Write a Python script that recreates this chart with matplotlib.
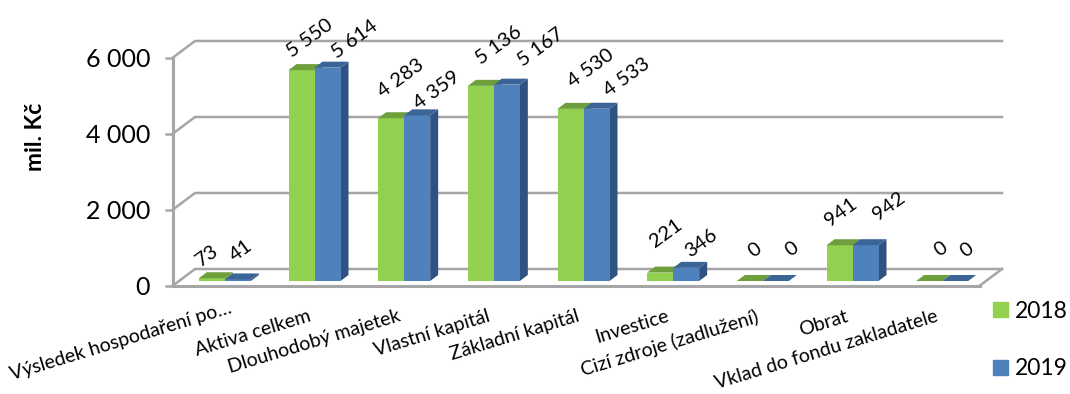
import matplotlib
matplotlib.use('Agg')
import matplotlib.pyplot as plt
from matplotlib.patches import Patch
from matplotlib.transforms import ScaledTranslation

categories = ['Výsledek hospodaření po…', 'Aktiva celkem', 'Dlouhodobý majetek',
              'Vlastní kapitál', 'Základní kapitál', 'Investice',
              'Cizí zdroje (zadlužení)', 'Obrat', 'Vklad do fondu zakladatele']
values_2018 = [73, 5550, 4283, 5136, 4530, 221, 0, 941, 0]
values_2019 = [41, 5614, 4359, 5167, 4533, 346, 0, 942, 0]
labels_2018 = ['73', '5 550', '4 283', '5 136', '4 530', '221', '0', '941', '0']
labels_2019 = ['41', '5 614', '4 359', '5 167', '4 533', '346', '0', '942', '0']
yticks = [0, 2000, 4000, 6000]
ytick_labels = ['0', '2 000', '4 000', '6 000']

# hand placed data labels, pixels from the top of the bar
nudge_2018 = [(-5, 23), (8, 32), (10, 40), (18, 41), (20, 41), (6, 39), (5, 31), (1, 33), (12, 32)]
nudge_2019 = [(3, 29), (27, 28), (20, 25), (34, 37), (30, 32), (15, 25), (16, 32), (23, 39), (12, 31)]

GREEN, GREEN_TOP = '#92D050', '#6F9E3D'
BLUE, BLUE_TOP, BLUE_SIDE = '#4F81BD', '#3B6497', '#2F5282'
GREY = '#A6A6A6'
FONT = 'Lato'

W, H = 1070, 394
LEFT, RIGHT, BOTTOM, TOP = 173, 980, 285.5, 57.5

fig = plt.figure(figsize=(W / 100, H / 100), dpi=100)
ax = fig.add_axes([LEFT / W, 1 - BOTTOM / H, (RIGHT - LEFT) / W, (BOTTOM - TOP) / H])
ax.set_xlim(-0.5, len(categories) - 0.5)
ax.set_ylim(0, 6000)

# data units per pixel
ux = len(categories) / (RIGHT - LEFT)
uy = 6000 / (BOTTOM - TOP)

# walls
wall_dx, wall_dy = 22 * ux, 16.5 * uy
for tick in yticks:
    ax.plot([-0.5, -0.5 + wall_dx, 8.5 + wall_dx], [tick, tick + wall_dy, tick + wall_dy],
            color=GREY, lw=1.8, clip_on=False, zorder=1, solid_joinstyle='miter')
ax.plot([8.5, 8.5 + wall_dx], [0, wall_dy], color=GREY, lw=1.8, clip_on=False, zorder=1)

# bars with fake depth
shift = 7 * ux
width = 26 * ux
base = 4.5 * uy
depth_x, depth_y = 8 * ux, 6 * uy


def draw_bar(x, value, color, top_color, side_color):
    ax.bar(x, value, width=width, bottom=base, color=color, zorder=3)
    x0, x1 = x - width / 2, x + width / 2
    y0, y1 = base, base + value
    ax.fill([x0, x1, x1 + depth_x, x0 + depth_x], [y1, y1, y1 + depth_y, y1 + depth_y],
            color=top_color, lw=0, zorder=3, clip_on=False)
    ax.fill([x1, x1 + depth_x, x1 + depth_x, x1], [y0, y0 + depth_y, y1 + depth_y, y1],
            color=side_color, lw=0, zorder=2, clip_on=False)


def draw_label(x, value, text, nudge):
    ax.annotate(text, (x, value + base), xytext=nudge, textcoords='offset pixels',
                ha='center', va='center', rotation=36, fontsize=14.5, family=FONT,
                color='black', annotation_clip=False, zorder=5)


for i in range(len(categories)):
    xg = i + shift - width / 2
    xb = i + shift + width / 2
    draw_bar(xg, values_2018[i], GREEN, GREEN_TOP, GREEN_TOP)
    draw_bar(xb, values_2019[i], BLUE, BLUE_TOP, BLUE_SIDE)
    draw_label(xg, values_2018[i], labels_2018[i], nudge_2018[i])
    draw_label(xb, values_2019[i], labels_2019[i], nudge_2019[i])

for side in ['top', 'right']:
    ax.spines[side].set_visible(False)
for side in ['left', 'bottom']:
    ax.spines[side].set_color(GREY)
    ax.spines[side].set_linewidth(2.2)

ax.set_yticks(yticks)
ax.set_yticklabels(ytick_labels, fontsize=18, family=FONT)
ax.tick_params(axis='y', length=6, width=1.8, color=GREY, pad=10.5)
ax.set_xticks(range(len(categories)))
ax.set_xticklabels(categories, fontsize=14, family=FONT, rotation=17, ha='right',
                   rotation_mode='anchor')
ax.tick_params(axis='x', length=0, pad=16)
# the first label sits further right in the original
first = ax.get_xticklabels()[0]
first.set_transform(first.get_transform() + ScaledTranslation(11 / 100, 8 / 100, fig.dpi_scale_trans))
ax.set_ylabel('mil. Kč', fontsize=16.5, family=FONT, fontweight='bold')
ax.yaxis.set_label_coords((46 - LEFT) / (RIGHT - LEFT), 0.65)

handles = [Patch(color=GREEN, label='2018'), Patch(color=BLUE, label='2019')]
fig.legend(handles=handles, loc='center left', bbox_to_anchor=(993 / W, 1 - 340 / H),
           frameon=False, borderpad=0, borderaxespad=0, handlelength=0.65, handleheight=0.65,
           handletextpad=0.3, labelspacing=1.6, prop={'family': FONT, 'size': 16.5})

fig.savefig('out.png', dpi=100)
